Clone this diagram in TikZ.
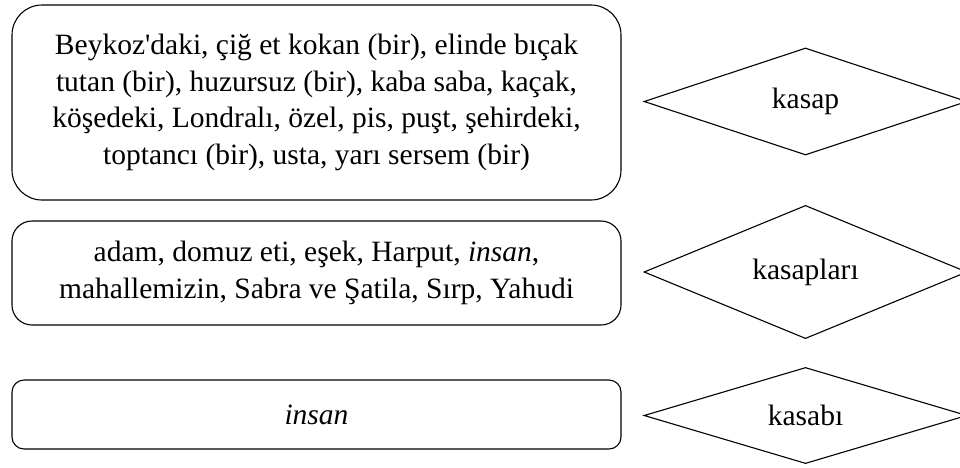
\documentclass[tikz,border=0pt]{standalone}
\usepackage{fontspec}
\setmainfont{Liberation Serif}
\usetikzlibrary{shapes.geometric}

\begin{document}
\begin{tikzpicture}[x=1pt, y=-1pt,
    kutu/.style={draw, rounded corners=#1, line width=1.1pt, minimum width=609pt,
        align=center, font=\fontsize{29.5}{36.5}\selectfont},
    elmas/.style={draw, diamond, line width=1.1pt, minimum width=323pt, inner sep=0pt,
        font=\fontsize{29.5}{36}\selectfont}]
    \useasboundingbox (0,0) rectangle (960,467);

    \node[kutu=30pt, minimum height=195pt] (k1) at (316.5,102.5)
        {Beykoz\textquotesingle daki, çiğ et kokan (bir), elinde bıçak\\
         tutan (bir), huzursuz (bir), kaba saba, kaçak,\\
         köşedeki, Londralı, özel, pis, puşt, şehirdeki,\\
         toptancı (bir), usta, yarı sersem (bir)};
    \node[kutu=20pt, minimum height=104pt] (k2) at (316.5,273)
        {adam, domuz eti, eşek, Harput, \textit{insan},\\
         mahallemizin, Sabra ve Şatila, Sırp, Yahudi};
    \node[kutu=12pt, minimum height=69pt] (k3) at (316.5,414.5) {\textit{insan}};

    \node[elmas, minimum height=107pt] (e1) at (805.5,101.5) {kasap};
    \node[elmas, minimum height=101pt] (e2) at (805.5,272) {kasapları};
    \node[elmas, minimum height=95pt] (e3) at (805.5,415.5) {kasabı};
\end{tikzpicture}
\end{document}
